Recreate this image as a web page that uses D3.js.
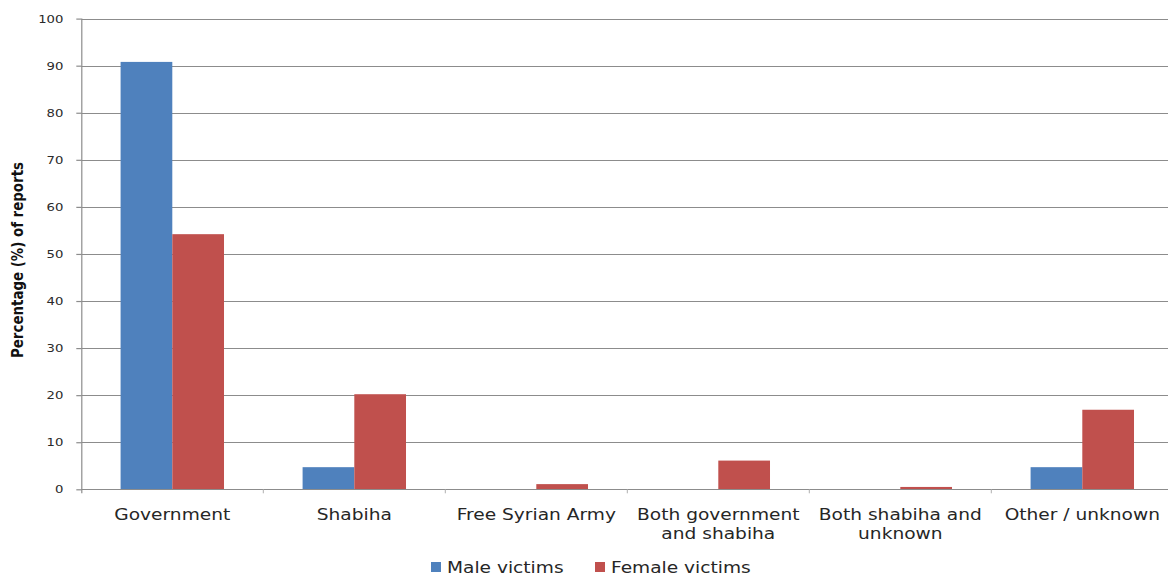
<!DOCTYPE html>
<html>
<head>
<meta charset="utf-8">
<script src="https://cdn.jsdelivr.net/npm/d3@7"></script>
<style>
  html, body { margin: 0; padding: 0; background: #fff; }
  svg { display: block; }
</style>
</head>
<body>
<svg id="chart" width="1168" height="577"></svg>
<script>
const categories = ["Government", "Shabiha", "Free Syrian Army", "Both government\nand shabiha", "Both shabiha and\nunknown", "Other / unknown"];
const seriesNames = ["Male victims", "Female victims"];
const maleValues = [90.8, 4.7, 0, 0, 0, 4.7];
const femaleValues = [54.2, 20.2, 1.1, 6.1, 0.5, 16.9];
const yTicks = [0, 10, 20, 30, 40, 50, 60, 70, 80, 90, 100];
const yTitle = "Percentage (%) of reports";
const colors = ["#4F81BD", "#C0504D"];

(function () {
const svg = d3.select("#chart");
const W = 1168;
const mLeft = 81.3, mRight = 1173.3, mTop = 18.6, mBottom = 489.3;
const sx = 1.2; // horizontal stretch of the original text

const x0 = d3.scaleBand().domain(categories).range([mLeft, mRight]).padding(0);
const x1 = d3.scaleBand().domain(seriesNames).range([0, x0.bandwidth()]).paddingInner(0).paddingOuter(0.76);
const y = d3.scaleLinear().domain([0, 100]).range([mBottom, mTop]);
const color = d3.scaleOrdinal().domain(seriesNames).range(colors);

// gridlines
svg.append("g").selectAll("line").data(yTicks.filter(d => d > 0)).join("line")
  .attr("x1", mLeft).attr("x2", W)
  .attr("y1", d => Math.round(y(d)) + 0.5).attr("y2", d => Math.round(y(d)) + 0.5)
  .attr("stroke", "#8c8c8c").attr("stroke-width", 1.2);

// bars
const rows = categories.map((c, i) => ({ cat: c, vals: [maleValues[i], femaleValues[i]] }));
const groups = svg.append("g").selectAll("g").data(rows).join("g")
  .attr("transform", d => `translate(${x0(d.cat)},0)`);
groups.selectAll("rect").data(d => d.vals.map((v, k) => ({ s: seriesNames[k], v })))
  .join("rect")
  .attr("x", d => x1(d.s))
  .attr("width", x1.bandwidth())
  .attr("y", d => y(d.v))
  .attr("height", d => mBottom - y(d.v))
  .attr("fill", d => color(d.s));

// x axis baseline
svg.append("line").attr("x1", mLeft).attr("x2", W)
  .attr("y1", Math.round(mBottom) + 0.5).attr("y2", Math.round(mBottom) + 0.5)
  .attr("stroke", "#8c8c8c").attr("stroke-width", 1.2);

// category separator ticks
svg.append("g").selectAll("line").data(categories.slice(1)).join("line")
  .attr("x1", d => x0(d)).attr("x2", d => x0(d))
  .attr("y1", mBottom).attr("y2", mBottom + 4)
  .attr("stroke", "#b0b0b0").attr("stroke-width", 1);

// y axis
const yAxis = d3.axisLeft(y).tickValues(yTicks).tickSize(5).tickSizeOuter(0);
const ya = svg.append("g").attr("transform", `translate(${mLeft},0)`).call(yAxis);
ya.select(".domain").attr("stroke", "#8c8c8c").attr("stroke-width", 1.2)
  .attr("d", `M0.5,${mTop}V${mBottom + 4}`);
ya.selectAll(".tick line").attr("stroke", "#8c8c8c").attr("stroke-width", 1.2);
ya.selectAll(".tick text")
  .attr("x", -18 / sx)
  .attr("transform", `scale(${sx},1)`)
  .attr("fill", "#2a2a2a")
  .style("font-family", "'DejaVu Sans', Verdana, sans-serif")
  .style("font-size", "11px");

// category labels
const catLabels = svg.append("g").selectAll("text").data(categories).join("text")
  .attr("transform", d => `translate(${x0(d) + x0.bandwidth() / 2},519.5) scale(${sx},1)`)
  .attr("text-anchor", "middle")
  .attr("fill", "#262626")
  .style("font-family", "'DejaVu Sans', Verdana, sans-serif")
  .style("font-size", "15.5px");
catLabels.selectAll("tspan").data(d => d.split("\n")).join("tspan")
  .attr("x", 0).attr("y", (d, i) => i * 20).text(d => d);

// y title
svg.append("text")
  .attr("transform", `translate(23,260) rotate(-90)`)
  .attr("text-anchor", "middle")
  .attr("fill", "#111")
  .attr("textLength", 196).attr("lengthAdjust", "spacingAndGlyphs")
  .style("font-family", "'Liberation Sans Narrow', 'DejaVu Sans Condensed', sans-serif")
  .style("font-weight", "bold")
  .style("font-size", "16px")
  .text(yTitle);

// legend
const legendItems = [{ name: seriesNames[0], x: 431 }, { name: seriesNames[1], x: 595 }];
const lg = svg.append("g").selectAll("g").data(legendItems).join("g")
  .attr("transform", d => `translate(${d.x},567)`);
lg.append("rect").attr("x", 0).attr("y", -5).attr("width", 10).attr("height", 10)
  .attr("fill", d => color(d.name));
lg.append("text")
  .attr("transform", `translate(16,0) scale(${sx},1)`)
  .attr("dy", "0.36em")
  .attr("fill", "#262626")
  .style("font-family", "'DejaVu Sans', Verdana, sans-serif")
  .style("font-size", "15.5px")
  .text(d => d.name);
})();
</script>
</body>
</html>
